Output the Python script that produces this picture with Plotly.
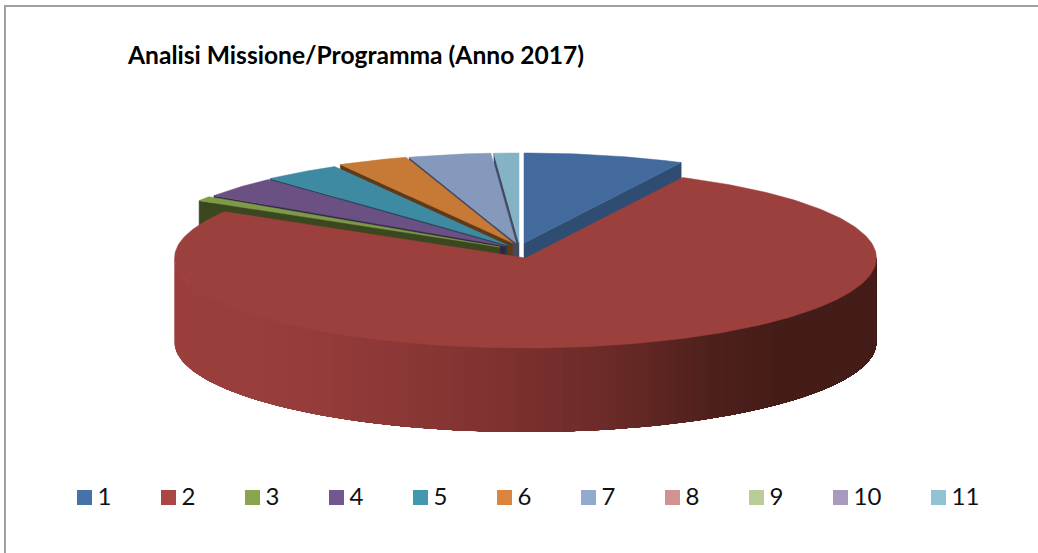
import math
import plotly.graph_objects as go

# ---- data ----
categories = ["1", "2", "3", "4", "5", "6", "7", "8", "9", "10", "11"]
shares = [7.39, 76.22, 0.83, 3.78, 3.61, 3.25, 3.78, 0, 0, 0, 1.14]
title_text = "Analisi Missione/Programma (Anno 2017)"

# ---- styles ----
top_colors = ["#426a9c", "#9c403e", "#7e9a48", "#6b5083", "#3e8aa2", "#c67a35",
              "#8599bd", "#c98c8a", "#b0c48c", "#a092b4", "#85b3c6"]
side_colors = ["#2f4d72", "#441c18", "#3a471f", "#322542", "#1c4250", "#5e3a19",
               "#434a60", "#6a4644", "#586246", "#50495a", "#434a60"]
legend_colors = ["#4572A7", "#AA4643", "#89A54E", "#71588F", "#4198AF", "#DB843D",
                 "#93A9CF", "#D19392", "#B9CD96", "#A99BBD", "#92C3D5"]
# centre of each (exploded) slice on the canvas
centres = [(524, 243), (525.5, 258), (500, 247), (505, 246), (507, 245), (512.7, 243),
           (516, 243), (517, 243), (518, 243), (518, 243), (519, 243)]
RX, RY, DEPTH = 351, 90, 84
legend_x = [84.5, 168.5, 252.5, 336.5, 420.5, 504.5, 588.5, 672.5, 756.5, 840.5, 938.5]
LEGEND_Y = 497.5
LABEL_DX = 13
LABEL_DY = 1.5
FONT = "Lato, Carlito, Calibri, sans-serif"


def rim(c, deg, drop=0):
    t = math.radians(deg)
    return c[0] + RX * math.sin(t), c[1] - RY * math.cos(t) + drop


def arc(c, a, b, drop=0):
    n = max(2, int(abs(b - a)) + 2)
    return [rim(c, a + (b - a) * i / (n - 1), drop) for i in range(n)]


def poly(points, color, width=0.5):
    xs = [p[0] for p in points] + [points[0][0]]
    ys = [p[1] for p in points] + [points[0][1]]
    return go.Scatter(x=xs, y=ys, mode="lines", fill="toself", fillcolor=color,
                      line=dict(color=color, width=width), hoverinfo="skip", showlegend=False)


def cut_face(c, deg, color):
    a = rim(c, deg)
    return poly([c, a, (a[0], a[1] + DEPTH), (c[0], c[1] + DEPTH)], color)


def lerp_hex(c1, c2, f):
    p = [int(c1[i:i + 2], 16) for i in (1, 3, 5)]
    q = [int(c2[i:i + 2], 16) for i in (1, 3, 5)]
    return "#%02x%02x%02x" % tuple(round(u + (v - u) * f) for u, v in zip(p, q))


# gradient across the front wall of the large slice, by horizontal position
wall_stops = [(0.0, "#9b3f3d"), (0.18, "#963d3b"), (0.45, "#7f3230"), (0.62, "#6a2a27"),
              (0.76, "#4e201c"), (0.86, "#441c18"), (1.0, "#441c18")]


def wall_color(f):
    for (f0, c0), (f1, c1) in zip(wall_stops, wall_stops[1:]):
        if f <= f1:
            return lerp_hex(c0, c1, (f - f0) / (f1 - f0))
    return wall_stops[-1][1]


# ---- angles from the values (clockwise from 12 o'clock) ----
total = sum(shares)
starts, ends = [], []
acc = 0.0
for v in shares:
    starts.append(acc)
    acc += v / total * 360
    ends.append(acc)

fig = go.Figure()

# back slices first, the large front slice last
for i in [10, 6, 5, 4, 3, 2]:
    fig.add_trace(cut_face(centres[i], starts[i], side_colors[i]))
    fig.add_trace(poly([centres[i]] + arc(centres[i], starts[i], ends[i]), top_colors[i]))

fig.add_trace(cut_face(centres[0], ends[0], side_colors[0]))
fig.add_trace(poly([centres[0]] + arc(centres[0], starts[0], ends[0]), top_colors[0]))

# wall of slice 2: overlapping shaded sections, left to right, so no seams appear
c2 = centres[1]
STEP = 1.5
deg = 270.0
while deg > 90:
    f = (rim(c2, deg)[0] - (c2[0] - RX)) / (2 * RX)
    fig.add_trace(poly(arc(c2, deg, 90) + arc(c2, 90, deg, DEPTH), wall_color(f), width=0))
    deg -= STEP
fig.add_trace(poly([c2] + arc(c2, starts[1], ends[1]), top_colors[1]))

# key
for name, col, x in zip(categories, legend_colors, legend_x):
    fig.add_trace(go.Scatter(
        x=[x], y=[LEGEND_Y], mode="markers", name=name,
        marker=dict(symbol="square", size=15, color=col, line=dict(width=0)),
        hoverinfo="skip", showlegend=False))
    fig.add_trace(go.Scatter(
        x=[x + LABEL_DX], y=[LEGEND_Y + LABEL_DY], mode="text", name=name, text=[name],
        textposition="middle right",
        textfont=dict(family=FONT, size=24, color="#111111"),
        hoverinfo="skip", showlegend=False))

fig.update_layout(
    width=1038, height=553, autosize=False,
    margin=dict(l=0, r=0, t=0, b=0),
    paper_bgcolor="white", plot_bgcolor="white",
    xaxis=dict(range=[0, 1038], visible=False, fixedrange=True),
    yaxis=dict(range=[553, 0], visible=False, fixedrange=True),
    shapes=[dict(type="rect", xref="x", yref="y", x0=5, y0=6, x1=1060, y1=580,
                 line=dict(color="#a0a0a0", width=2), layer="below")],
    annotations=[dict(text="<b>%s</b>" % title_text, x=125, y=54.5, xref="x", yref="y",
                      xanchor="left", yanchor="middle", showarrow=False,
                      font=dict(family=FONT, size=24.6, color="#000000"))],
)

fig.write_html("out.html", post_script="document.body.style.margin='0';",
               config=dict(displayModeBar=False))
